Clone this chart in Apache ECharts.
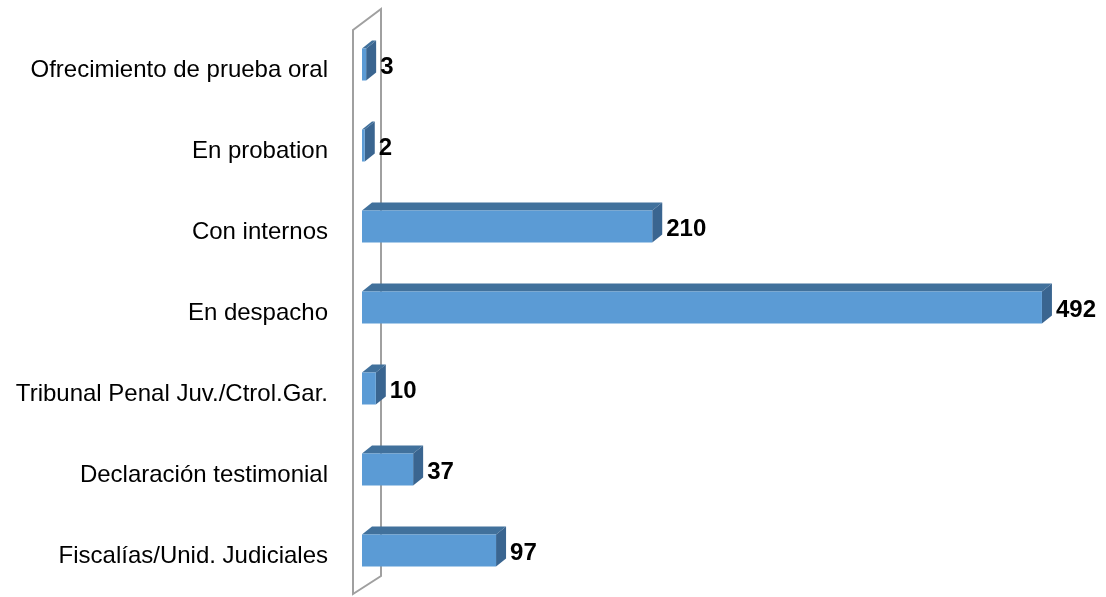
<!DOCTYPE html>
<html>
<head>
<meta charset="utf-8">
<script src="https://cdn.jsdelivr.net/npm/echarts@6/dist/echarts.min.js"></script>
<style>
  html, body { margin: 0; padding: 0; background: #fff; }
  #chart { width: 1106px; height: 597px; }
</style>
</head>
<body>
<div id="chart"></div>
<script>
const categories = [
  'Ofrecimiento de prueba oral',
  'En probation',
  'Con internos',
  'En despacho',
  'Tribunal Penal Juv./Ctrol.Gar.',
  'Declaración testimonial',
  'Fiscalías/Unid. Judiciales'
]
const values = [3, 2, 210, 492, 10, 37, 97]

const FRONT = '#5B9BD5'
const TOP = '#41719C'
const SIDE = '#3A6590'
const DX = 10   // depth offset
const DY = 8

// 基于准备好的dom，初始化echarts实例
let myChart = echarts.init(document.getElementById('chart'))

function renderBar(params, api) {
  let v = api.value(1)
  let p0 = api.coord([0, api.value(0)])
  let p1 = api.coord([v, api.value(0)])
  let x0 = p0[0], x1 = p1[0]
  let yt = p0[1] - 22
  let yb = p0[1] + 10
  return {
    type: 'group',
    children: [
      {
        type: 'polygon',
        shape: { points: [[x0, yt], [x0 + DX, yt - DY], [x1 + DX, yt - DY], [x1, yt]] },
        style: { fill: TOP }
      },
      {
        type: 'polygon',
        shape: { points: [[x1, yt], [x1 + DX, yt - DY], [x1 + DX, yb - DY], [x1, yb]] },
        style: { fill: SIDE }
      },
      {
        type: 'rect',
        shape: { x: x0, y: yt, width: x1 - x0, height: yb - yt },
        style: { fill: FRONT }
      },
      {
        type: 'text',
        x: x1 + DX + 4,
        y: p0[1] - 3,
        style: {
          text: String(v),
          fill: '#000',
          font: 'bold 24px "Liberation Sans", sans-serif',
          verticalAlign: 'middle',
          align: 'left'
        }
      }
    ]
  }
}

function renderWall(params, api) {
  let cs = params.coordSys
  let x = api.coord([0, 0])[0]
  let l = x - 9, r = x + 19
  let top = cs.y, bot = cs.y + cs.height
  return {
    type: 'polygon',
    shape: { points: [[l, top], [r, top - 21], [r, bot - 21], [l, bot - 3]] },
    style: { fill: 'none', stroke: '#A0A0A0', lineWidth: 2 }
  }
}

myChart.setOption({
  animation: false,
  grid: { left: 362, right: 53, top: 30, bottom: -3 },
  xAxis: {
    type: 'value',
    min: 0,
    max: 500,
    show: false
  },
  yAxis: {
    type: 'category',
    inverse: true,
    data: categories,
    axisLine: { show: false },
    axisTick: { show: false },
    splitLine: { show: false },
    axisLabel: {
      margin: 34,
      color: '#000',
      fontSize: 24,
      padding: [10, 0, 0, 0],
      fontFamily: '"Liberation Sans", sans-serif'
    }
  },
  series: [
    {
      type: 'custom',
      renderItem: renderWall,
      data: [[0]],
      z: 1,
      silent: true
    },
    {
      type: 'custom',
      renderItem: renderBar,
      encode: { x: 1, y: 0 },
      data: values.map((v, i) => [i, v]),
      z: 2
    }
  ]
})
</script>
</body>
</html>
